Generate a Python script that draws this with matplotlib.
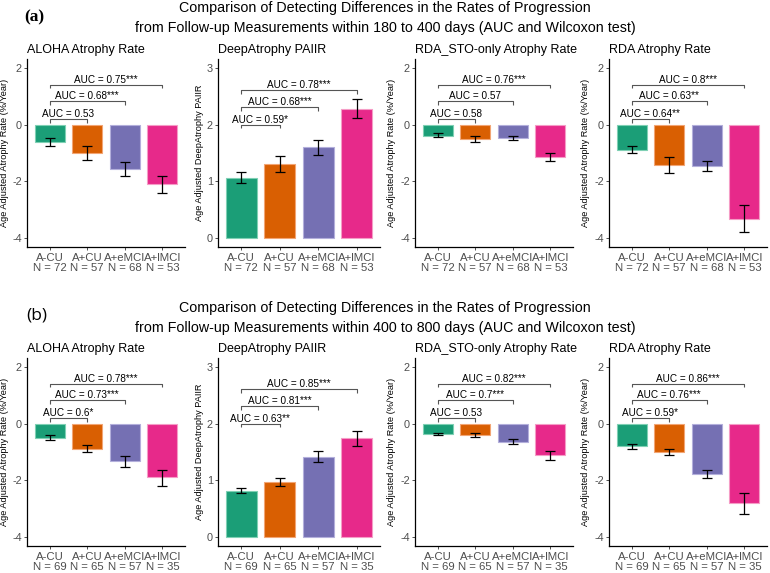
import matplotlib
matplotlib.use("Agg")
import matplotlib.pyplot as plt
import numpy as np

plt.rcParams['font.family'] = ['Liberation Sans', 'DejaVu Sans']
plt.rcParams['axes.unicode_minus'] = False

groups = ["A-CU", "A+CU", "A+eMCI", "A+lMCI"]
colors = ["#1B9E77", "#D95F02", "#7570B3", "#E7298A"]
edge_colors = ["#7FD0B4", "#F2A574", "#B3AFDB", "#F59CC6"]

panel_titles = ["ALOHA Atrophy Rate", "DeepAtrophy PAIIR", "RDA_STO-only Atrophy Rate", "RDA Atrophy Rate"]
ylabels = ["Age Adjusted Atrophy Rate (%/Year)", "Age Adjusted DeepAtrophy PAIIR",
           "Age Adjusted Atrophy Rate (%/Year)", "Age Adjusted Atrophy Rate (%/Year)"]

# Row (a): 180 to 400 days
n_a = [72, 57, 68, 53]
mean_a = [[-0.61, -1.01, -1.56, -2.10],
          [1.06, 1.31, 1.60, 2.28],
          [-0.39, -0.51, -0.48, -1.13],
          [-0.88, -1.41, -1.45, -3.30]]
lo_a = [[-0.75, -1.26, -1.81, -2.40],
        [0.97, 1.16, 1.47, 2.11],
        [-0.44, -0.63, -0.56, -1.29],
        [-0.99, -1.70, -1.63, -3.77]]
hi_a = [[-0.47, -0.75, -1.31, -1.82],
        [1.16, 1.45, 1.73, 2.45],
        [-0.30, -0.39, -0.39, -0.99],
        [-0.76, -1.13, -1.27, -2.82]]
auc_a = [["AUC = 0.53", "AUC = 0.68***", "AUC = 0.75***"],
         ["AUC = 0.59*", "AUC = 0.68***", "AUC = 0.78***"],
         ["AUC = 0.58", "AUC = 0.57", "AUC = 0.76***"],
         ["AUC = 0.64**", "AUC = 0.63**", "AUC = 0.8***"]]

# Row (b): 400 to 800 days
n_b = [69, 65, 57, 35]
mean_b = [[-0.51, -0.88, -1.33, -1.89],
          [0.82, 0.97, 1.42, 1.74],
          [-0.38, -0.42, -0.64, -1.12],
          [-0.79, -1.00, -1.76, -2.80]]
lo_b = [[-0.58, -1.01, -1.53, -2.20],
        [0.78, 0.91, 1.33, 1.61],
        [-0.42, -0.47, -0.71, -1.28],
        [-0.88, -1.12, -1.91, -3.16]]
hi_b = [[-0.41, -0.75, -1.13, -1.64],
        [0.87, 1.04, 1.51, 1.86],
        [-0.33, -0.35, -0.56, -0.96],
        [-0.71, -0.89, -1.62, -2.45]]
auc_b = [["AUC = 0.6*", "AUC = 0.73***", "AUC = 0.78***"],
         ["AUC = 0.63**", "AUC = 0.81***", "AUC = 0.85***"],
         ["AUC = 0.53", "AUC = 0.7***", "AUC = 0.82***"],
         ["AUC = 0.59*", "AUC = 0.76***", "AUC = 0.86***"]]

# bracket heights (data units) per panel type
bracket_neg = [0.2, 0.81, 1.40]
bracket_pos = [2.0, 2.30, 2.60]

W, H = 770, 573
fig = plt.figure(figsize=(W / 100, H / 100), dpi=100)

col_x = [(27, 185), (218, 380), (415, 573), (609, 767)]
ylab_x = [5, 199, 392, 586]
rows = [dict(top=59, bot=247, n=n_a, mean=mean_a, lo=lo_a, hi=hi_a, auc=auc_a,
             label="(a)", days="180 to 400", title_y=[8, 28], sub_y=47, lab_y=17, lab_x=24,
             lab_kw=dict(family=['Liberation Serif', 'DejaVu Serif'], fontweight='bold', fontsize=12.5)),
        dict(top=358, bot=546, n=n_b, mean=mean_b, lo=lo_b, hi=hi_b, auc=auc_b,
             label="(b)", days="400 to 800", title_y=[308, 328], sub_y=346, lab_y=316, lab_x=26,
             lab_kw=dict(family=['Open Sans', 'DejaVu Sans'], fontsize=12.5))]

gray = "#4D4D4D"
for r in rows:
    fig.text(385 / W, 1 - r['title_y'][0] / H,
             "Comparison of Detecting Differences in the Rates of Progression",
             ha='center', va='center', fontsize=10.3)
    fig.text(385 / W, 1 - r['title_y'][1] / H,
             "from Follow-up Measurements within %s days (AUC and Wilcoxon test)" % r['days'],
             ha='center', va='center', fontsize=10.3)
    fig.text(r['lab_x'] / W, 1 - r['lab_y'] / H, r['label'], ha='left', va='center', **r['lab_kw'])
    for p in range(4):
        x0, x1 = col_x[p]
        wpx = x1 - x0
        ax = fig.add_axes([x0 / W, 1 - r['bot'] / H, wpx / W, (r['bot'] - r['top']) / H])
        xs = np.arange(1, 5)
        m = np.array(r['mean'][p])
        lo = np.array(r['lo'][p])
        hi = np.array(r['hi'][p])
        ax.bar(xs, m, width=0.8, color=colors, edgecolor=edge_colors, linewidth=0.8, zorder=2)
        ax.errorbar(xs, m, yerr=[m - lo, hi - m], fmt='none', ecolor='black',
                    elinewidth=0.9, capsize=3.3, capthick=0.9, zorder=3)
        ax.set_xlim(0.4, 4.6)
        if p == 1:
            ax.set_ylim(-0.15, 3.15)
            ticks = [0, 1, 2, 3]
            hts = bracket_pos
            tip = 0.066
        else:
            ax.set_ylim(-4.3, 2.3)
            ticks = [-4, -2, 0, 2]
            hts = bracket_neg
            tip = 0.13
        ax.set_yticks(ticks)
        for k in range(3):
            h = hts[k]
            xe = k + 2
            ax.plot([1, 1, xe, xe], [h - tip, h, h, h - tip], color='#555555', lw=0.8, zorder=4,
                    solid_capstyle='butt')
            ax.text((1 + xe) / 2, h, r['auc'][p][k], ha='center', va='bottom', fontsize=7.2)
        ax.set_xticks(xs)
        ax.set_xticklabels(["%s\nN = %d" % (g, n) for g, n in zip(groups, r['n'])],
                           fontsize=8.2, color=gray, linespacing=1.0)
        ax.tick_params(axis='y', labelsize=7.8, labelcolor=gray, length=2.5, color='#333333',
                       width=0.6, pad=1.2)
        ax.tick_params(axis='x', length=2.5, color='#333333', width=0.6, pad=1.5)
        for s in ['top', 'right']:
            ax.spines[s].set_visible(False)
        for s in ['left', 'bottom']:
            ax.spines[s].set_linewidth(0.9)
            ax.spines[s].set_color('black')
        ax.set_ylabel(ylabels[p], fontsize=6.6)
        ax.yaxis.set_label_coords((ylab_x[p] - x0) / wpx, 0.5)
        ax.yaxis.label.set_va('center')
        ax.set_title(panel_titles[p], loc='left', fontsize=9, pad=4)

fig.savefig("out.png", dpi=100)
